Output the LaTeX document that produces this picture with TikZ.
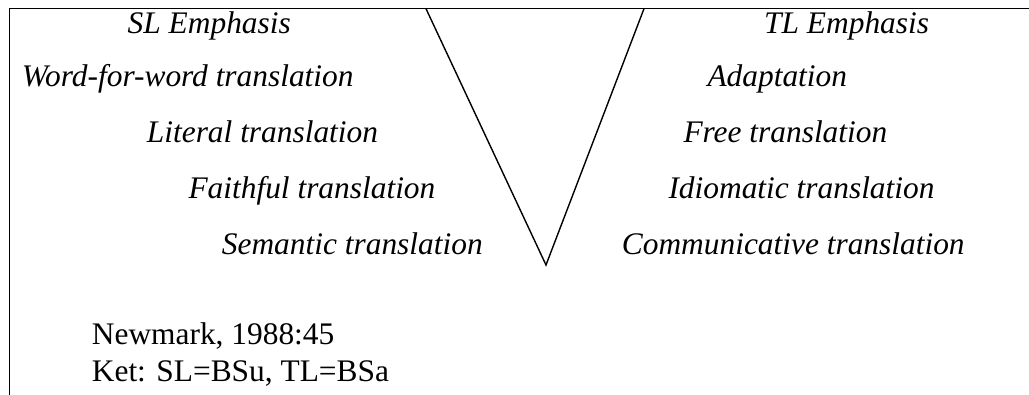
\documentclass[tikz,border=0pt]{standalone}
\usepackage{fontspec}
\setmainfont{Liberation Serif}
\usepackage{tikz}

\tikzset{
    label/.style={anchor=base west, inner sep=0pt, font=\fontsize{31.4}{37}\selectfont\itshape},
    note/.style={anchor=base west, inner sep=0pt, font=\fontsize{31.4}{37}\selectfont}
}

\begin{document}
\begin{tikzpicture}[x=1pt, y=-1pt]
    \useasboundingbox (0, 0) rectangle (1029, 395);
    % frame
    \coordinate (tl) at (9.5, 8.7);
    \coordinate (tr) at (1029, 8.7);
    \coordinate (bl) at (9.5, 395);
    \draw[black, line width=1.4pt] (tr) -- (tl) -- (bl);
    % the V
    \coordinate (vleft) at (426, 8.7);
    \coordinate (vright) at (644, 8.7);
    \coordinate (vtip) at (546, 265);
    \draw[black, line width=1.4pt] (vleft) -- (vtip) -- (vright);
    % SL side
    \node[label] (sl) at (127.5, 33.5) {SL Emphasis};
    \node[label] (wfw) at (21.7, 87) {Word-for-word translation};
    \node[label] (lit) at (146.7, 143) {Literal translation};
    \node[label] (fai) at (188.3, 199) {Faithful translation};
    \node[label] (sem) at (221.7, 254.5) {Semantic translation};
    % TL side
    \node[label] (tl-emph) at (764, 33.5) {TL Emphasis};
    \node[label] (ada) at (707.3, 87) {Adaptation};
    \node[label] (fre) at (683.3, 143) {Free translation};
    \node[label] (idi) at (668.3, 199) {Idiomatic translation};
    \node[label] (com) at (621.7, 254.5) {Communicative translation};
    % source
    \node[note] (src) at (91.7, 345) {Newmark, 1988:45};
    \node[note] (ket) at (91.7, 382) {Ket: SL=BSu, TL=BSa};
\end{tikzpicture}
\end{document}
